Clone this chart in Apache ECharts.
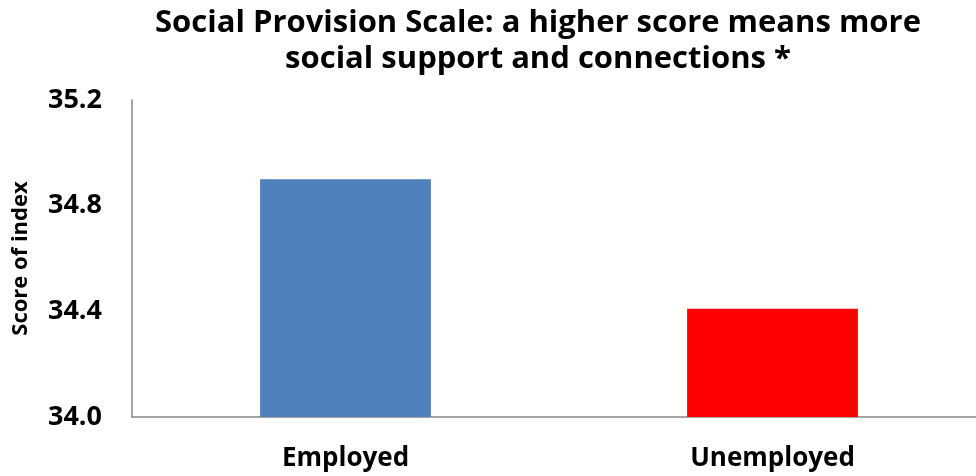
<!DOCTYPE html>
<html>
<head>
<meta charset="utf-8">
<script src="https://cdn.jsdelivr.net/npm/echarts@6/dist/echarts.min.js"></script>
<style>
  html, body { margin: 0; padding: 0; background: #fff; }
  #chart { width: 976px; height: 476px; }
</style>
</head>
<body>
<div id="chart"></div>
<script>
// Employment status groups and their mean Social Provision Scale score
const categories = ['Employed', 'Unemployed'];
const scores = [34.90, 34.41];
const barColors = ['#4F81BD', '#FF0000'];
const yTicks = { min: 34.0, max: 35.2, interval: 0.4 };

const FONT = '"Open Sans", "Noto Sans", sans-serif';

const chart = echarts.init(document.getElementById('chart'), null, { renderer: 'canvas' });

chart.setOption({
  animation: false,
  backgroundColor: '#ffffff',
  title: {
    text: 'Social Provision Scale: a higher score means more\nsocial support and connections *',
    left: 533,
    top: 0,
    textAlign: 'center',
    textStyle: {
      fontFamily: FONT,
      fontWeight: 'bold',
      fontSize: 31,
      lineHeight: 36,
      color: '#000'
    }
  },
  // plot area runs past the right edge of the canvas
  grid: { left: 132, width: 854, top: 100, bottom: 59, outerBoundsMode: 'none', containLabel: false },
  xAxis: {
    type: 'category',
    data: categories,
    axisLine: { lineStyle: { color: '#868686', width: 1.5 } },
    axisTick: { show: false },
    axisLabel: {
      margin: 29,
      fontFamily: FONT,
      fontWeight: 'bold',
      fontSize: 26,
      color: '#000'
    }
  },
  yAxis: {
    type: 'value',
    min: yTicks.min,
    max: yTicks.max,
    interval: yTicks.interval,
    name: 'Score of index',
    nameLocation: 'middle',
    nameGap: 100,
    nameTextStyle: {
      fontFamily: FONT,
      fontWeight: 'bold',
      fontSize: 22,
      color: '#000'
    },
    axisLine: { show: true, lineStyle: { color: '#868686', width: 1.5 } },
    axisTick: { show: false },
    splitLine: { show: false },
    axisLabel: {
      margin: 30,
      fontFamily: FONT,
      fontWeight: 'bold',
      fontSize: 27,
      color: '#000',
      formatter: v => v.toFixed(1)
    }
  },
  series: [{
    type: 'bar',
    data: scores.map((v, i) => ({ value: v, itemStyle: { color: barColors[i] } })),
    barWidth: '40%'
  }]
});
</script>
</body>
</html>
